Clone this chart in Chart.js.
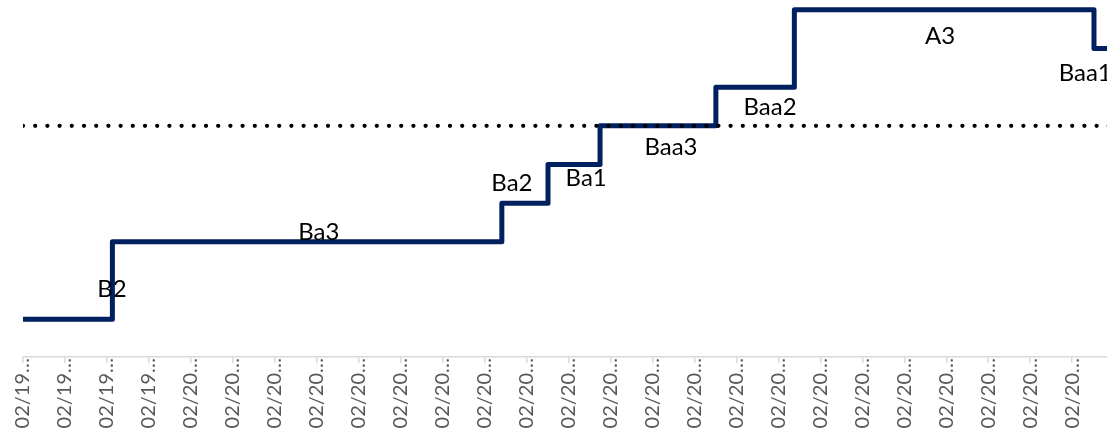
<!DOCTYPE html>
<html>
<head>
<meta charset="utf-8">
<script src="https://cdn.jsdelivr.net/npm/chart.js@4/dist/chart.umd.min.js"></script>
<style>
  html, body { margin: 0; padding: 0; background: #fff; overflow: hidden; }
  #wrap { width: 1107px; height: 431px; position: relative; }
</style>
</head>
<body>
<div id="wrap"><canvas id="chart-notation"></canvas></div>
<script>
/* ── Données ─────────────────────────────────────────────── */
const tickLabels = [
  '02/19…', '02/19…', '02/19…', '02/19…', '02/20…', '02/20…', '02/20…',
  '02/20…', '02/20…', '02/20…', '02/20…', '02/20…', '02/20…', '02/20…',
  '02/20…', '02/20…', '02/20…', '02/20…', '02/20…', '02/20…', '02/20…',
  '02/20…', '02/20…', '02/20…', '02/20…', '02/20…',
];

/* échelle de notation, de la plus basse à la plus haute */
const ratingScale = ['B2', 'B1', 'Ba3', 'Ba2', 'Ba1', 'Baa3', 'Baa2', 'Baa1', 'A3'];

/* date de changement (en pas d'étiquette) et note atteinte */
const changeAt    = [0, 2.13, 11.41, 12.51, 13.75, 16.51, 18.38, 25.52, 26.5];
const ratingAfter = ['B2', 'Ba3', 'Ba2', 'Ba1', 'Baa3', 'Baa2', 'A3', 'Baa1', 'Baa1'];

/* seuil « investment grade » en pointillés */
const thresholdRating = 'Baa3';
const thresholdSpan   = [0, 26.5];

/* étiquettes de note posées sur la courbe */
const noteText = ['B2', 'Ba3', 'Ba2', 'Ba1', 'Baa3', 'Baa2', 'A3', 'Baa1'];

/* ── Placement des étiquettes (unités des axes) ──────────── */
const noteSpots = [
  [2.12, 0.80], [7.05, 2.26], [11.65, 3.55], [13.42, 3.68],
  [15.44, 4.48], [17.80, 5.50], [21.85, 7.35], [25.31, 6.37],
];

const rang = r => ratingScale.indexOf(r);

/* ── Plugin : étiquettes texte des notes ─────────────────── */
const etiquettesNotes = {
  id: 'etiquettesNotes',
  afterDatasetsDraw(chart) {
    const { ctx, scales: { x, y } } = chart;
    const taille = 24;
    ctx.save();
    ctx.font = `${taille}px Lato, 'Open Sans', sans-serif`;
    ctx.fillStyle = '#000';
    ctx.textAlign = 'center';
    ctx.textBaseline = 'alphabetic';
    noteText.forEach((t, i) => {
      const [vx, vy] = noteSpots[i];
      ctx.fillText(t, x.getPixelForValue(vx), y.getPixelForValue(vy) + taille * 0.36);
    });
    ctx.restore();
  },
};

const ctx = document.getElementById('chart-notation').getContext('2d');

new Chart(ctx, {
  type: 'line',
  data: {
    datasets: [
      {
        /* seuil Baa3 — pointillés noirs, au-dessus de la courbe */
        label          : 'Seuil',
        data           : thresholdSpan.map(v => ({ x: v, y: rang(thresholdRating) })),
        borderColor    : '#000',
        borderWidth    : 4.3,
        borderDash     : [0, 12.2],
        borderCapStyle : 'round',
        pointRadius    : 0,
        order          : 0,
      },
      {
        /* historique de notation — escalier bleu foncé */
        label          : 'Notation',
        data           : changeAt.map((v, i) => ({ x: v, y: rang(ratingAfter[i]) })),
        borderColor    : '#002060',
        borderWidth    : 5,
        borderJoinStyle: 'round',
        stepped        : 'before',
        pointRadius    : 0,
        order          : 1,
      },
    ],
  },
  options: {
    responsive         : true,
    maintainAspectRatio: false,
    animation          : false,
    devicePixelRatio   : 1,
    layout             : { padding: { left: 23, right: 0, top: 0, bottom: 0 } },
    plugins: {
      legend : { display: false },
      tooltip: { enabled: false },
    },
    scales: {
      x: {
        type: 'linear',
        min : 0,
        max : 25.83,
        afterBuildTicks: s => { s.ticks = tickLabels.map((_, i) => ({ value: i })); },
        afterFit: s => { s.height = 74; s.paddingLeft = 0; s.paddingRight = 0; },
        grid  : { drawOnChartArea: false, drawTicks: true, tickLength: 6, color: '#d9d9d9', lineWidth: 1.5 },
        border: { color: '#d9d9d9', width: 1.5 },
        ticks : {
          autoSkip   : false,
          minRotation: 90,
          maxRotation: 90,
          padding    : -5,
          color      : '#595959',
          font       : { family: 'Lato', size: 20 },
          callback   : (v, i) => tickLabels[i],
        },
      },
      y: {
        display: false,
        min    : -0.977,
        max    : 8.253,
      },
    },
  },
  plugins: [etiquettesNotes],
});
</script>
</body>
</html>
